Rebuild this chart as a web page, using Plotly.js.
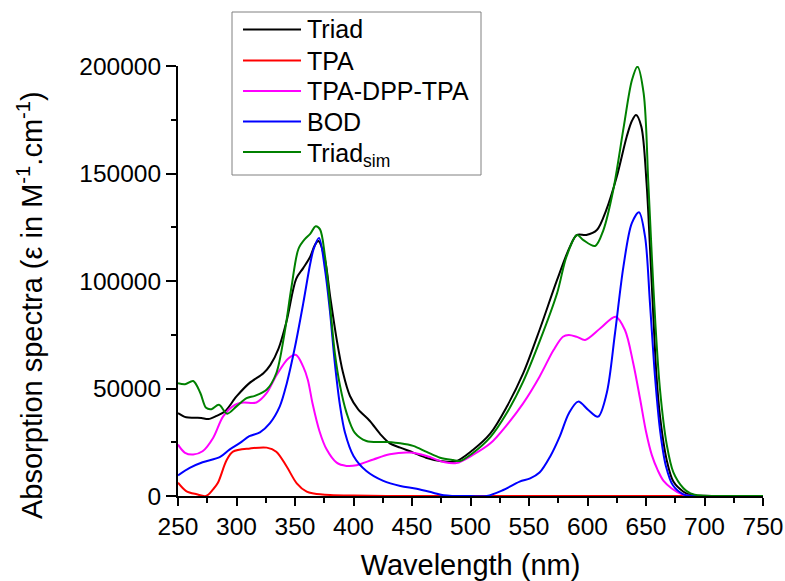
<!DOCTYPE html>
<html>
<head>
<meta charset="utf-8">
<script src="https://cdn.plot.ly/plotly-3.0.1.min.js"></script>
<style>html,body{margin:0;padding:0;background:#fff;}#chart{width:785px;height:581px;}</style>
</head>
<body>
<div id="chart"></div>
<script>
// Wavelength (nm) and molar absorption (M^-1 cm^-1)
var wlTriad = [250, 257, 265, 270, 276, 283, 290, 300, 311, 323, 329, 336, 343, 351, 357, 363, 367, 370, 375.6, 380, 385.6, 391, 397, 404, 414, 423, 431, 440, 451, 462, 474, 487, 502, 517, 531, 545, 559, 574, 585, 591, 599, 608, 616, 625, 633.5, 638, 641.5, 646, 650.5, 653.5, 656.3, 659, 662, 667.7, 673.4, 682, 688, 700, 720, 750];
var triad = [38600, 36600, 36400, 36300, 35800, 37300, 39300, 46300, 52500, 57100, 61000, 68700, 81800, 101000, 106000, 111300, 116700, 118600, 110000, 93000, 72900, 57400, 46500, 40300, 34900, 28700, 24500, 22500, 20200, 17800, 16300, 16000, 21400, 29100, 41500, 57000, 77200, 100500, 116000, 121400, 121400, 123700, 133000, 148500, 167100, 174500, 177200, 171800, 145400, 114400, 83400, 55500, 36900, 16700, 6700, 2000, 500, 100, 0, 0];

var wlTPA = [250, 257, 266, 274, 280, 284, 291.6, 297, 311.5, 325.8, 334, 343, 351.5, 360, 366, 380, 400, 450, 500, 600, 700];
var tpa = [6200, 2300, 800, 0, 3100, 6000, 16700, 20600, 22100, 22500, 20600, 13600, 5900, 2000, 1200, 500, 200, 0, 0, 0, 0];

var wlDPP = [250, 256, 263, 271, 280, 288.6, 298.6, 305.7, 317, 325.7, 334.3, 344.3, 350.9, 357, 361, 365, 371, 377, 385.6, 394, 402.7, 417, 431, 448, 462.5, 477, 488, 502, 517, 531, 545, 559, 571, 579, 584, 591, 598, 611, 624, 632, 639, 645, 650, 655, 660, 665, 672, 680, 690, 750];
var tpaDppTpa = [23900, 20100, 19300, 20800, 27000, 37000, 42400, 43500, 43500, 47800, 56300, 64000, 65600, 60200, 54000, 43000, 30000, 21700, 15500, 14000, 14300, 17000, 19400, 20200, 18600, 15800, 15300, 19100, 24500, 33000, 43100, 55500, 67900, 74100, 74900, 74000, 72600, 78000, 83400, 77200, 62000, 45000, 30000, 19000, 12000, 7000, 3500, 1000, 0, 0];

var wlBOD = [250, 260, 271, 286, 294, 303, 311, 320, 328.6, 337, 343, 350, 357, 363, 366, 370.5, 375.6, 380, 384, 388.5, 392.7, 400, 411, 425.5, 440, 454, 468, 477, 485, 500, 514, 528, 542, 551, 559, 568, 576.5, 584, 592, 600.7, 609, 616.4, 623.5, 630.7, 637.8, 644, 649.2, 653.4, 657.7, 662, 667, 673, 682, 690, 700, 750];
var bod = [9600, 13100, 15700, 18200, 21600, 24700, 27800, 29600, 33900, 41700, 52500, 69400, 89500, 108000, 115000, 120000, 105400, 85200, 62000, 41900, 29500, 18600, 11600, 7000, 4650, 3400, 1550, 300, 0, 0, 0, 2800, 6700, 8200, 10900, 18300, 28000, 38400, 43900, 40000, 36900, 47800, 75700, 106700, 126800, 132000, 120600, 89600, 55500, 30700, 14000, 5000, 800, 0, 0, 0];

var wlSim = [250, 256, 263, 269, 274, 278.6, 285, 292, 300, 308.6, 315.7, 325.7, 334, 341, 347, 353, 358.6, 363, 367.7, 371.4, 375.6, 380, 384, 388.5, 394, 401, 411, 428, 440, 451, 462.5, 474, 485, 491, 502, 517, 531, 545, 559, 574, 582, 591, 596.5, 606.5, 613.6, 622, 631, 638, 642.7, 648, 652, 655, 658, 662, 667.7, 673.4, 682, 688, 697, 720, 750];
var triadSim = [52500, 52000, 53500, 48000, 41000, 40400, 42400, 38300, 41700, 45500, 46600, 49400, 57100, 75600, 97200, 115000, 119600, 121900, 125500, 124000, 111600, 88400, 66700, 51200, 38800, 29500, 25600, 25100, 24500, 23300, 20500, 17800, 16700, 16300, 20000, 27400, 38600, 53200, 71800, 94300, 111300, 121400, 119000, 116300, 123700, 142300, 171800, 193500, 199700, 187300, 145400, 111300, 80300, 49300, 24000, 11000, 3600, 1200, 200, 0, 0];

var seriesNames = ['Triad', 'TPA', 'TPA-DPP-TPA', 'BOD', 'Triad<sub>sim</sub>'];
var seriesColors = ['#000000', '#ff0000', '#ff00ff', '#0000ff', '#008000'];
var xTickVals = [250, 300, 350, 400, 450, 500, 550, 600, 650, 700, 750];
var yTickVals = [0, 50000, 100000, 150000, 200000];

var xs = [wlTriad, wlTPA, wlDPP, wlBOD, wlSim];
var ys = [triad, tpa, tpaDppTpa, bod, triadSim];

var traces = xs.map(function (x, i) {
  return {
    x: x, y: ys[i], name: seriesNames[i], type: 'scatter', mode: 'lines',
    line: {color: seriesColors[i], width: 2, shape: 'spline', smoothing: 0.9},
    hoverinfo: 'skip', showlegend: false
  };
});

var FONT = 'Arial, "Liberation Sans", sans-serif';

// plot area in pixels: left 178, right 763, top 66, bottom 496
var PL = 178, PW = 585, PB = 496, PH = 430;
function px(x) { return (x - PL) / PW; }
function py(y) { return (PB - y) / PH; }

// legend (drawn as shapes + text in paper coordinates)
var shapes = [{
  type: 'rect', xref: 'paper', yref: 'paper',
  x0: px(232), x1: px(481), y0: py(12), y1: py(175),
  line: {color: '#808080', width: 1}, fillcolor: '#ffffff', layer: 'above'
}];
var annotations = [];
var rowY = [29.5, 60.5, 91, 121.5, 152];
seriesNames.forEach(function (nm, i) {
  shapes.push({
    type: 'line', xref: 'paper', yref: 'paper',
    x0: px(243), x1: px(301), y0: py(rowY[i]), y1: py(rowY[i]),
    line: {color: seriesColors[i], width: 2}, layer: 'above'
  });
  annotations.push({
    text: nm, xref: 'paper', yref: 'paper', x: px(305), y: py(rowY[i] + (i === 4 ? 3 : 0)),
    xanchor: 'left', yanchor: 'middle', showarrow: false,
    font: {family: FONT, size: 25, color: '#000'}
  });
});

annotations.push({
  text: 'Absorption spectra (ε in M<sup>-1</sup>.cm<sup>-1</sup>)',
  xref: 'paper', yref: 'paper', x: px(30), y: py(305),
  xanchor: 'center', yanchor: 'middle', textangle: -90, showarrow: false,
  font: {family: FONT, size: 29, color: '#000'}
});

var layout = {
  width: 785, height: 581,
  margin: {l: 178, r: 22, t: 66, b: 85, pad: 0},
  paper_bgcolor: '#ffffff', plot_bgcolor: '#ffffff',
  font: {family: FONT, color: '#000000'},
  showlegend: false,
  xaxis: {
    range: [250, 750], tickmode: 'array', tickvals: xTickVals,
    ticks: 'outside', ticklen: 8, tickwidth: 2, tickcolor: '#000',
    showline: true, linewidth: 2, linecolor: '#000',
    showgrid: false, zeroline: false,
    tickfont: {family: FONT, size: 24.5, color: '#000'},
    minor: {dtick: 25, tick0: 250, ticks: 'outside', ticklen: 5, tickwidth: 2, tickcolor: '#000', showgrid: false},
    title: {text: 'Wavelength (nm)', font: {family: FONT, size: 29, color: '#000'}, standoff: 28}
  },
  yaxis: {
    range: [0, 200000], tickmode: 'array', tickvals: yTickVals, tickformat: 'd',
    ticks: 'outside', ticklen: 10, tickwidth: 2, tickcolor: '#000',
    showline: true, linewidth: 2, linecolor: '#000',
    showgrid: false, zeroline: false,
    tickfont: {family: FONT, size: 24.5, color: '#000'},
    minor: {dtick: 25000, tick0: 0, ticks: 'outside', ticklen: 5, tickwidth: 2, tickcolor: '#000', showgrid: false}
  },
  shapes: shapes,
  annotations: annotations
};

Plotly.newPlot('chart', traces, layout, {staticPlot: true, displayModeBar: false});
</script>
</body>
</html>
